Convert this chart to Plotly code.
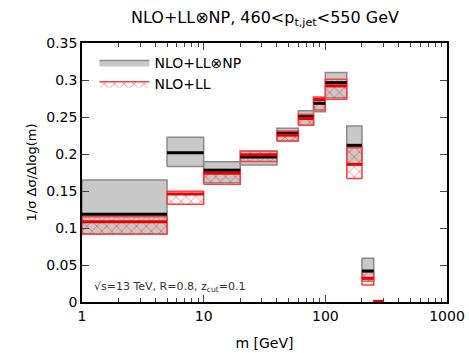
import plotly.graph_objects as go

# bin edges in m [GeV]
edges = [1, 5, 10, 20, 40, 60, 80, 100, 150, 200, 250, 300]
# NLO+LL(x)NP band and central value
np_lo = [0.092, 0.183, 0.161, 0.185, 0.2176, 0.239, 0.2572, 0.276, 0.186, 0.028, 0.0]
np_hi = [0.165, 0.2226, 0.1896, 0.204, 0.2347, 0.2585, 0.2766, 0.310, 0.2378, 0.059, 0.0]
np_c = [0.1185, 0.2018, 0.178, 0.196, 0.228, 0.2505, 0.2685, 0.2964, 0.2117, 0.0419, 0.0]
# NLO+LL band and central value
ll_lo = [0.092, 0.132, 0.159, 0.190, 0.2176, 0.239, 0.2595, 0.274, 0.167, 0.023, 0.0]
ll_hi = [0.1153, 0.1495, 0.179, 0.2036, 0.231, 0.2536, 0.2766, 0.301, 0.2086, 0.041, 0.002]
ll_c = [0.1085, 0.146, 0.174, 0.199, 0.2255, 0.248, 0.2735, 0.292, 0.186, 0.032, 0.0]


def boxes(lo, hi):
    xs, ys = [], []
    for i in range(len(lo)):
        a, b = edges[i], edges[i + 1]
        xs += [a, b, b, a, a, None]
        ys += [lo[i], lo[i], hi[i], hi[i], lo[i], None]
    return xs, ys


def segs(c):
    xs, ys = [], []
    for i in range(len(c)):
        xs += [edges[i], edges[i + 1], None]
        ys += [c[i], c[i], None]
    return xs, ys


fig = go.Figure()
x, y = boxes(np_lo, np_hi)
fig.add_trace(go.Scatter(x=x, y=y, mode="lines", fill="toself", fillcolor="#c8c8c8",
                         line=dict(color="#8a8a8a", width=1.5), name="NLO+LL⊗NP",
                         hoverinfo="skip"))
x, y = boxes(ll_lo, ll_hi)
fig.add_trace(go.Scatter(x=x, y=y, mode="lines", fill="toself", fillcolor="rgba(0,0,0,0)",
                         fillpattern=dict(shape="x", fgcolor="#ff2020", bgcolor="rgba(0,0,0,0)",
                                          size=7, solidity=0.25),
                         line=dict(color="#ff4040", width=1.5), name="NLO+LL",
                         hoverinfo="skip"))
x, y = segs(np_c)
fig.add_trace(go.Scatter(x=x, y=y, mode="lines", line=dict(color="black", width=3),
                         showlegend=False, hoverinfo="skip"))
x, y = segs(ll_c)
fig.add_trace(go.Scatter(x=x, y=y, mode="lines", line=dict(color="#ee0000", width=3),
                         showlegend=False, hoverinfo="skip"))

font = "DejaVu Sans, sans-serif"
fig.update_layout(
    width=469, height=353,
    margin=dict(l=82, r=22, t=43, b=51, autoexpand=False),
    paper_bgcolor="white", plot_bgcolor="white",
    font=dict(family=font, size=14, color="black"),
    title=dict(text="NLO+LL⊗NP, 460<p<sub>t,jet</sub><550 GeV", x=0.565, xanchor="center",
               y=0.952, yanchor="middle", font=dict(size=16)),
    showlegend=True,
    legend=dict(x=0.034, y=0.985, xanchor="left", yanchor="top", bgcolor="rgba(0,0,0,0)",
                font=dict(size=14), tracegroupgap=2, itemwidth=50),
    xaxis=dict(type="log", range=[0, 3], tickvals=[1, 10, 100, 1000],
               ticktext=["1", "10", "100", "1000"], ticks="inside", ticklen=7,
               showgrid=False, zeroline=False, showline=True, linecolor="black", linewidth=1.5,
               mirror="ticks", automargin=False,
               minor=dict(ticks="inside", ticklen=4, tickvals=[2, 3, 4, 5, 6, 7, 8, 9, 20, 30, 40, 50, 60, 70, 80, 90, 200, 300, 400, 500, 600, 700, 800, 900], showgrid=False),
               title=dict(text="m [GeV]", standoff=16, font=dict(size=14))),
    yaxis=dict(range=[0, 0.35], dtick=0.05, ticks="inside", ticklen=7,
               showgrid=False, zeroline=False, showline=True, linecolor="black", linewidth=1.5,
               mirror="ticks", automargin=False,
               title=dict(text="1/σ Δσ/Δlog(m)", standoff=7, font=dict(size=13))),
)
fig.add_annotation(text="√s=13 TeV, R=0.8, z<sub>cut</sub>=0.1", xref="paper", yref="paper",
                   x=0.028, y=0.058, xanchor="left", yanchor="middle", showarrow=False,
                   font=dict(size=11, color="#333333"))
fig.write_html("out.html", config={"displayModeBar": False},
               post_script="document.body.style.margin='0px';")
